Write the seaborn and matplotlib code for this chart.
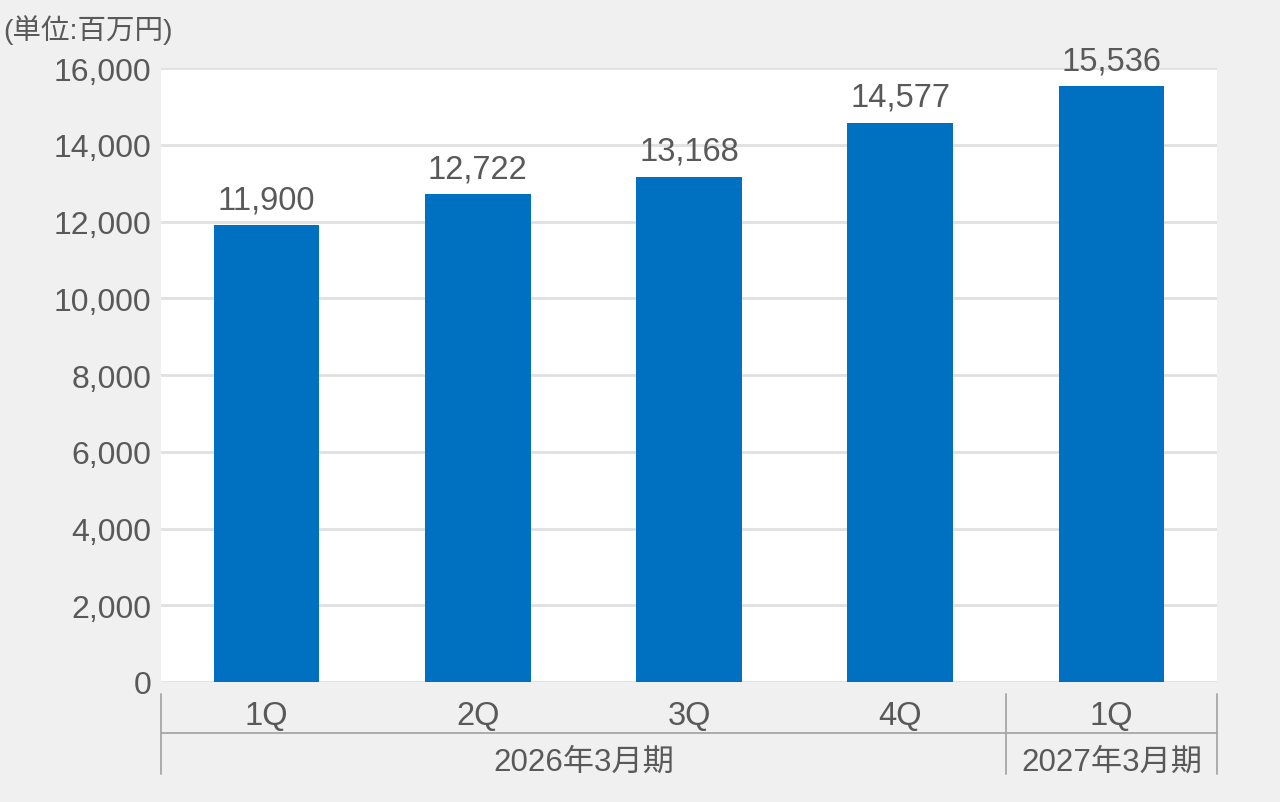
import matplotlib
matplotlib.use("Agg")
import matplotlib.pyplot as plt
import seaborn as sns
import pandas as pd

# ---- data ----
quarters = ["1Q", "2Q", "3Q", "4Q", "1Q"]
periods = ["2026年3月期", "2026年3月期", "2026年3月期", "2026年3月期", "2027年3月期"]
values = [11900, 12722, 13168, 14577, 15536]
group_labels = ["2026年3月期", "2027年3月期"]
group_sizes = [4, 1]
unit_label = "(単位:百万円)"
yticks = [0, 2000, 4000, 6000, 8000, 10000, 12000, 14000, 16000]

df = pd.DataFrame({
    "key": [f"{p}-{q}" for p, q in zip(periods, quarters)],
    "quarter": quarters,
    "value": values,
})

sns.set_theme(style="white")
plt.rcParams["font.family"] = ["Liberation Sans", "Noto Sans CJK JP", "DejaVu Sans"]

TXT = "#595959"
BAR = "#0070C0"
BG = "#F0F0F0"
GRID = "#E0E0E0"
SEP = "#A6A6A6"
FS = 23.5

fig = plt.figure(figsize=(12.8, 8.03), dpi=100, facecolor=BG)
ax = fig.add_axes([161 / 1280, (803 - 683) / 803, (1217 - 161) / 1280, (683 - 69) / 803])
ax.set_facecolor("white")

sns.barplot(data=df, x="key", y="value", color=BAR, saturation=1, width=0.5, ax=ax,
            edgecolor="none", linewidth=0)

ax.set_xlim(-0.5, len(values) - 0.5)
ax.set_ylim(0, 16000)
ax.set_yticks(yticks)
ax.set_yticklabels([f"{v:,}" for v in yticks], fontsize=23, color=TXT)
ax.set_xticks(range(len(quarters)))
ax.set_xticklabels(quarters, fontsize=FS, color=TXT)
ax.tick_params(axis="both", length=0)
ax.tick_params(axis="x", pad=13)
ax.tick_params(axis="y", pad=7)
ax.set_xlabel("")
ax.set_ylabel("")
ax.yaxis.grid(True, color=GRID, linewidth=2)
ax.set_axisbelow(True)
for s in ax.spines.values():
    s.set_visible(False)

for c in ax.containers:
    ax.bar_label(c, labels=[f"{v:,}" for v in values], padding=7, fontsize=FS, color=TXT)

# group separators and labels below the axis
trans = ax.get_xaxis_transform()
h_ax = (683 - 69) / 803 * 8.03 * 100  # axes height px
def yfrac(py):
    return (683 - py) / h_ax

bounds = [-0.5]
for n in group_sizes:
    bounds.append(bounds[-1] + n)
for b in bounds:
    ax.plot([b, b], [yfrac(695), yfrac(775)], transform=trans, color=SEP, lw=1.3, clip_on=False)
ax.plot([-0.5, len(values) - 0.5], [yfrac(734), yfrac(734)], transform=trans, color=SEP, lw=1.3, clip_on=False)
for i, lab in enumerate(group_labels):
    cx = (bounds[i] + bounds[i + 1]) / 2
    ax.text(cx, yfrac(763), lab, transform=trans, ha="center", va="center", fontsize=22.5, color=TXT)

fig.text(3 / 1280, 1 - 30 / 803, unit_label, ha="left", va="center", fontsize=20.5, color=TXT)

fig.savefig("out.png", dpi=100, facecolor=BG)
